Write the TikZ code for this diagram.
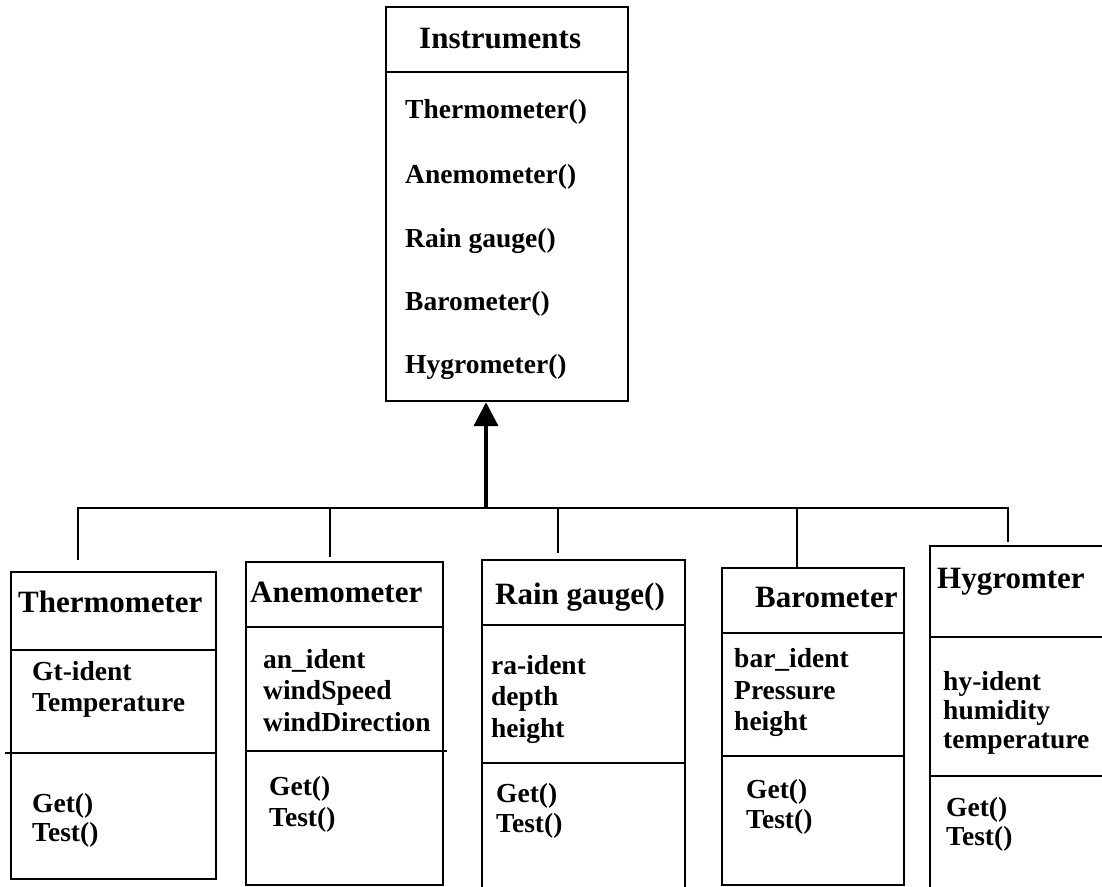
\documentclass[tikz,border=0pt]{standalone}
\usepackage{fontspec}
\setmainfont{Liberation Serif}
\usetikzlibrary{arrows.meta}
\begin{document}
\begin{tikzpicture}[x=1pt,y=-1pt,
  box/.style={draw, line width=2.2pt, inner sep=0pt, anchor=north west},
  rule/.style={line width=2.2pt},
  title/.style={anchor=base west, inner sep=0pt, font=\fontsize{31}{34}\selectfont\bfseries},
  item/.style={anchor=base west, inner sep=0pt, font=\fontsize{27.5}{30}\selectfont\bfseries},
  inherit/.style={line width=4pt, -{Triangle[width=24pt,length=24pt]}}]

\path[use as bounding box, clip] (0,0) rectangle (1102,886);
\fill[white] (0,0) rectangle (1102,886);

% class boxes
\node[box, minimum width=242, minimum height=394] (instr)  at (385,6)   {};
\node[box, minimum width=205, minimum height=307] (thermo) at (10,571)  {};
\node[box, minimum width=197, minimum height=323] (anemo)  at (245,561) {};
\node[box, minimum width=203, minimum height=340] (rain)   at (481,559) {};
\node[box, minimum width=182, minimum height=317] (baro)   at (721,567) {};
\node[box, minimum width=190, minimum height=345] (hygro)  at (929,545) {};

% compartment dividers
\draw[rule] (instr.west |- 0,72) -- (instr.east |- 0,72);
\draw[rule] (thermo.west |- 0,650) -- (thermo.east |- 0,650);
\draw[rule] (5,753) -- (thermo.east |- 0,753);
\draw[rule] (anemo.west |- 0,627) -- (anemo.east |- 0,627);
\draw[rule] (anemo.west |- 0,751) -- (447,751);
\draw[rule] (rain.west |- 0,625) -- (686,625);
\draw[rule] (rain.west |- 0,763) -- (686,763);
\draw[rule] (baro.west |- 0,633) -- (baro.east |- 0,633);
\draw[rule] (baro.west |- 0,756) -- (baro.east |- 0,756);
\draw[rule] (hygro.west |- 0,637) -- (hygro.east |- 0,637);
\draw[rule] (hygro.west |- 0,776) -- (hygro.east |- 0,776);

% Instruments
\node[title] (instrT) at (419,48) {Instruments};
\node[item] (i1) at (405,118) {Thermometer()};
\node[item] (i2) at (405,183) {Anemometer()};
\node[item] (i3) at (405,247) {Rain gauge()};
\node[item] (i4) at (405,310) {Barometer()};
\node[item] (i5) at (405,373) {Hygrometer()};

% Thermometer
\node[title] (thT) at (18,612) {Thermometer};
\node[item] (th1) at (32,680) {Gt-ident};
\node[item] (th2) at (32,711) {Temperature};
\node[item] (th3) at (32,812) {Get()};
\node[item] (th4) at (32,841) {Test()};

% Anemometer
\node[title] (anT) at (250,602) {Anemometer};
\node[item] (an1) at (263,668) {an\_ident};
\node[item] (an2) at (263,699) {windSpeed};
\node[item] (an3) at (263,731) {windDirection};
\node[item] (an4) at (269,795) {Get()};
\node[item] (an5) at (269,826) {Test()};

% Rain gauge
\node[title] (raT) at (495,604) {Rain gauge()};
\node[item] (ra1) at (491,674) {ra-ident};
\node[item] (ra2) at (491,705) {depth};
\node[item] (ra3) at (491,737) {height};
\node[item] (ra4) at (496,802) {Get()};
\node[item] (ra5) at (496,832) {Test()};

% Barometer
\node[title] (baT) at (755,607) {Barometer};
\node[item] (ba1) at (734,667) {bar\_ident};
\node[item] (ba2) at (734,699) {Pressure};
\node[item] (ba3) at (734,730) {height};
\node[item] (ba4) at (746,798) {Get()};
\node[item] (ba5) at (746,828) {Test()};

% Hygrometer
\node[title] (hyT) at (937,588) {Hygromter};
\node[item] (hy1) at (943,690) {hy-ident};
\node[item] (hy2) at (943,719) {humidity};
\node[item] (hy3) at (943,748) {temperature};
\node[item] (hy4) at (946,816) {Get()};
\node[item] (hy5) at (946,845) {Test()};

% inheritance bus
\coordinate (j1) at (78,508);
\coordinate (j2) at (330,508);
\coordinate (jA) at (486,508);
\coordinate (j3) at (558,508);
\coordinate (j4) at (797,508);
\coordinate (j5) at (1008,508);
\draw[rule, line cap=rect] (j1) -- (j5);
\draw[rule, shorten >=11pt] (j1) -- (thermo.north -| j1);
\draw[rule, shorten >=4pt]  (j2) -- (anemo.north -| j2);
\draw[rule, shorten >=6pt]  (j3) -- (rain.north -| j3);
\draw[rule]                 (j4) -- (baro.north -| j4);
\draw[rule, shorten >=3pt]  (j5) -- (hygro.north -| j5);
\draw[inherit] (jA) -- (instr.south -| jA);
\end{tikzpicture}
\end{document}
